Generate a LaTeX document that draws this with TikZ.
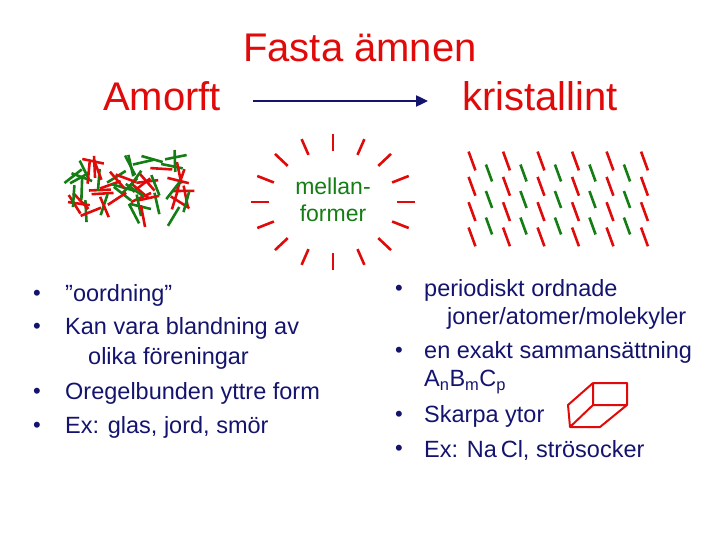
\documentclass[tikz,border=0pt]{standalone}
\usepackage{fontspec}
\setmainfont{Liberation Sans}
\usetikzlibrary{calc,arrows.meta}
\definecolor{tred}{RGB}{225,10,10}
\definecolor{tgreen}{RGB}{20,125,20}
\definecolor{navy}{RGB}{20,20,110}
\begin{document}
\begin{tikzpicture}[x=1pt,y=-1pt,
  rs/.style={tred,line width=2.6pt},
  gs/.style={tgreen,line width=2.6pt},
  big/.style={font=\fontsize{40}{44}\selectfont,text=tred,inner sep=0},
  bl/.style={font=\fontsize{23.5}{27}\selectfont,text=navy,anchor=west,inner sep=0},
  dot/.style={font=\fontsize{22}{24}\selectfont,text=navy,anchor=center,inner sep=0}]
\useasboundingbox (0,0) rectangle (720,540);
\node[big] (title) at (360,48) {Fasta ämnen};
\node[big] (amorft) at (162,96) {Amorft};
\node[big] (krist) at (540,96) {kristallint};
\coordinate (a1) at (253,101); \coordinate (a2) at (428,101);
\draw[navy,line width=2.4pt,-{Triangle[length=12pt,width=11pt]}] (a1) -- (a2);
% amorphous
\pgfmathsetseed{7}
\foreach \i in {1,...,60}{
  \pgfmathsetmacro{\cx}{130+60*rand}
  \pgfmathsetmacro{\cy}{187+30*rand}
  \pgfmathsetmacro{\an}{180*rand}
  \pgfmathsetmacro{\c}{mod(\i,2)}
  \ifdim\c pt<0.5pt \def\st{rs}\else\def\st{gs}\fi
  \draw[\st] (\cx,\cy) ++(\an:11) -- ++(\an+180:22);
}
% sun
\node[font=\fontsize{23}{27}\selectfont,text=tgreen,align=center,inner sep=0] (mf) at (333,200) {mellan-\\former};
\foreach \a in {0,22.5,...,337.5}{
  \draw[rs] ($(333,202)+(\a:82 and 68)$) -- ($(333,202)+(\a:64 and 51)$);
}
% crystal
\foreach \c in {0,...,5}{\foreach \r in {0,...,3}{
  \draw[rs] (472+34.5*\c,{161+25.3*\r}) ++(70:-10) -- ++(70:20);}}
\foreach \c in {0,...,4}{\foreach \r in {0,...,2}{
  \draw[gs] (489+34.5*\c,{173+26.5*\r}) ++(70:-9) -- ++(70:18);}}
% left bullets
\foreach \y in {295,328,393,427}{\node[dot] at (37,\y) {•};}
\node[bl] (l1) at (65,295) {”oordning”};
\node[bl] (l2) at (65,328) {Kan vara blandning av};
\node[bl] (l3) at (88,358) {olika föreningar};
\node[bl] (l4) at (65,393) {Oregelbunden yttre form};
\node[bl] (l5) at (65,427) {Ex: glas, jord, smör};
% right bullets
\foreach \y in {290,352,416,450}{\node[dot] at (399,\y) {•};}
\node[bl] (r1) at (424,290) {periodiskt ordnade};
\node[bl] (r2) at (447,318) {joner/atomer/molekyler};
\node[bl] (r3) at (424,352) {en exakt sammansättning};
\node[bl] (r4) at (424,382) {A\textsubscript{n}B\textsubscript{m}C\textsubscript{p}};
\node[bl] (r5) at (424,416) {Skarpa ytor};
\node[bl] (r6) at (424,450) {Ex: Na\,Cl, strösocker};
% cube
\draw[tred,line width=2pt,line join=round] (593,383) rectangle (627,405)
  (593,383) -- (568,405) -- (570,427) -- (600,427) -- (627,405)
  (593,405) -- (570,427);
\end{tikzpicture}
\end{document}
